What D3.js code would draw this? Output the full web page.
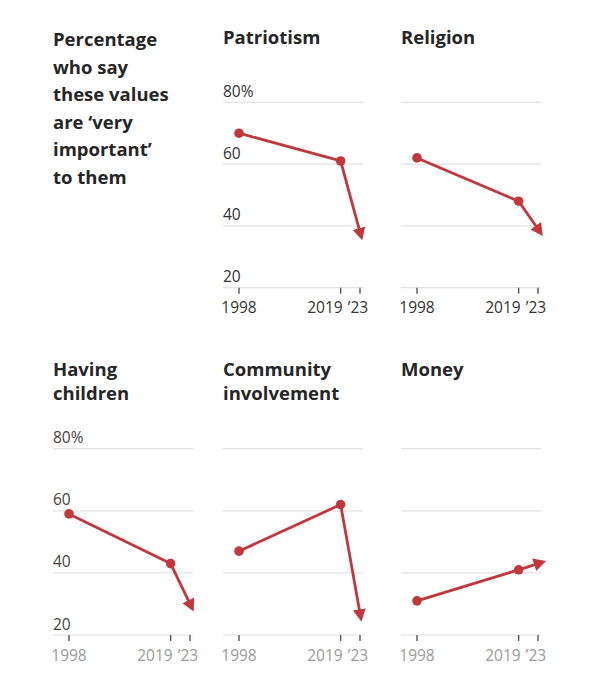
<!DOCTYPE html>
<html>
<head>
<meta charset="utf-8">
<script src="https://cdn.jsdelivr.net/npm/d3@7"></script>
<style>
  body { margin: 0; background: #fff; }
  svg { display: block; font-family: "Open Sans", sans-serif; }
</style>
</head>
<body>
<div id="chart"></div>
<script>
// ---- data ----
const NOTE_LINES = ["Percentage", "who say", "these values", "are \u2018very", "important\u2019", "to them"];
const TITLES = [["Patriotism"], ["Religion"], ["Having", "children"], ["Community", "involvement"], ["Money"]];
const YEARS = [1998, 2019, 2023];
const YEAR_LABELS = ["1998", "2019", "\u201923"];
const Y_TICKS = [20, 40, 60, 80];
const PATRIOTISM = [70, 61, 38];
const RELIGION = [62, 48, 39];
const CHILDREN = [59, 43, 30];
const COMMUNITY = [47, 62, 27];
const MONEY = [31, 41, 43];

const SERIES = [PATRIOTISM, RELIGION, CHILDREN, COMMUNITY, MONEY];

// ---- layout ----
const WIDTH = 609, HEIGHT = 680;
const COL_LEFT = [53, 223, 401];
const PANEL_W = 140;
const ROW_TOP = [102.3, 448.7];   // y of 80%
const ROW_BOTTOM = [287.7, 635];  // y of 20%
const RED = "#c0383c";

// which cell each panel goes in (row, col); top-left cell holds the note
const CELLS = [[0, 1], [0, 2], [1, 0], [1, 1], [1, 2]];

const svg = d3.select("#chart").append("svg")
  .attr("width", WIDTH)
  .attr("height", HEIGHT);

svg.append("defs").append("marker")
  .attr("id", "arrow")
  .attr("markerUnits", "userSpaceOnUse")
  .attr("viewBox", "0 -7 13 14")
  .attr("refX", 4)
  .attr("refY", 0)
  .attr("markerWidth", 13)
  .attr("markerHeight", 14)
  .attr("orient", "auto")
  .append("path")
  .attr("d", "M0,-6.5L12.5,0L0,6.5Z")
  .attr("fill", RED);

// note block
svg.append("g").selectAll("text")
  .data(NOTE_LINES)
  .enter().append("text")
  .attr("x", COL_LEFT[0])
  .attr("y", (d, i) => 46 + i * 27.5)
  .attr("font-size", "18.5px")
  .attr("font-weight", 700)
  .attr("fill", "#262626")
  .text(d => d);

SERIES.forEach((vals, k) => {
  const row = CELLS[k][0], col = CELLS[k][1];
  const left = COL_LEFT[col];

  const x = d3.scaleLinear().domain([1998, 2023]).range([left + 16, left + 137]);
  const y = d3.scaleLinear().domain([20, 80]).range([ROW_BOTTOM[row], ROW_TOP[row]]);

  const g = svg.append("g");

  // title
  g.selectAll(".title")
    .data(TITLES[k])
    .enter().append("text")
    .attr("x", left)
    .attr("y", (d, i) => (row === 0 ? 44 : 376) + i * 24)
    .attr("font-size", "18.5px")
    .attr("font-weight", 700)
    .attr("fill", "#262626")
    .text(d => d);

  // gridlines
  g.selectAll(".grid")
    .data(Y_TICKS)
    .enter().append("line")
    .attr("x1", left)
    .attr("x2", left + PANEL_W)
    .attr("y1", d => y(d))
    .attr("y2", d => y(d))
    .attr("stroke", "#e2e2e2")
    .attr("stroke-width", 1.2);

  // y labels only on first panel of each row
  if (col === 0 || (row === 0 && col === 1)) {
    g.selectAll(".ylab")
      .data(Y_TICKS)
      .enter().append("text")
      .attr("x", left)
      .attr("y", d => y(d) - 5.5)
      .attr("font-size", "15.5px")
      .attr("fill", row === 0 ? "#333" : "#444")
      .text(d => d === 80 ? "80%" : d);
  }

  // x ticks
  g.selectAll(".xtick")
    .data(YEARS)
    .enter().append("line")
    .attr("x1", d => x(d))
    .attr("x2", d => x(d))
    .attr("y1", y(20))
    .attr("y2", y(20) + 6)
    .attr("stroke", "#555")
    .attr("stroke-width", 1.4);

  g.selectAll(".xlab")
    .data(YEARS)
    .enter().append("text")
    .attr("x", (d, i) => x(d) + (i === 1 ? 2 : i === 2 ? -2 : 0))
    .attr("y", y(20) + 25.5)
    .attr("text-anchor", (d, i) => i === 1 ? "end" : "middle")
    .attr("font-size", "15.5px")
    .attr("fill", row === 0 ? "#333" : "#9a9a9a")
    .text((d, i) => YEAR_LABELS[i]);

  // line with arrow at the end
  const pts = YEARS.map((yr, i) => [x(yr), y(vals[i])]);
  g.append("path")
    .attr("d", d3.line()(pts))
    .attr("fill", "none")
    .attr("stroke", RED)
    .attr("stroke-width", 2.8)
    .attr("marker-end", "url(#arrow)");

  // dots for 1998 and 2019
  g.selectAll(".dot")
    .data(YEARS.slice(0, 2))
    .enter().append("circle")
    .attr("cx", d => x(d))
    .attr("cy", (d, i) => y(vals[i]))
    .attr("r", 4.8)
    .attr("fill", RED);
});
</script>
</body>
</html>
